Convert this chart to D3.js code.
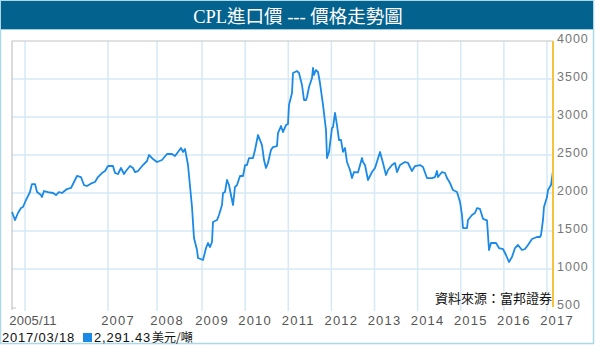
<!DOCTYPE html>
<html><head><meta charset="utf-8">
<script src="https://cdn.jsdelivr.net/npm/d3@7"></script>
<style>
html,body{margin:0;padding:0;background:#fff;}
svg{display:block;}
</style></head>
<body>
<script>
// ---- data (decimal years / USD per ton) ----
const years = [2005.667,2005.705,2005.743,2005.782,2005.807,2005.847,2005.875,2005.903,2005.931,2005.974,2006.002,2006.058,2006.072,2006.100,2006.156,2006.227,2006.269,2006.311,2006.353,2006.423,2006.480,2006.522,2006.564,2006.620,2006.662,2006.705,2006.775,2006.817,2006.859,2006.915,2006.958,2007.000,2007.102,2007.143,2007.204,2007.265,2007.327,2007.367,2007.449,2007.510,2007.551,2007.612,2007.714,2007.796,2007.837,2007.918,2008.000,2008.111,2008.222,2008.333,2008.400,2008.467,2008.533,2008.578,2008.622,2008.689,2008.778,2008.822,2008.889,2008.911,2009.023,2009.093,2009.139,2009.186,2009.232,2009.255,2009.348,2009.394,2009.464,2009.487,2009.533,2009.580,2009.626,2009.719,2009.765,2009.812,2009.881,2009.951,2010.000,2010.043,2010.090,2010.183,2010.229,2010.299,2010.391,2010.438,2010.484,2010.530,2010.600,2010.646,2010.739,2010.762,2010.832,2010.878,2010.948,2010.994,2011.017,2011.087,2011.110,2011.203,2011.249,2011.319,2011.365,2011.412,2011.435,2011.481,2011.551,2011.574,2011.597,2011.643,2011.690,2011.736,2011.806,2011.875,2011.899,2011.945,2012.014,2012.038,2012.084,2012.130,2012.177,2012.223,2012.270,2012.316,2012.362,2012.432,2012.478,2012.525,2012.617,2012.710,2012.733,2012.780,2012.849,2012.942,2013.012,2013.128,2013.197,2013.267,2013.313,2013.406,2013.475,2013.522,2013.591,2013.707,2013.777,2013.870,2013.939,2014.055,2014.125,2014.217,2014.333,2014.403,2014.449,2014.472,2014.565,2014.635,2014.681,2014.751,2014.820,2014.913,2014.983,2015.029,2015.052,2015.145,2015.168,2015.261,2015.330,2015.377,2015.446,2015.516,2015.609,2015.655,2015.701,2015.817,2015.887,2015.980,2016.049,2016.119,2016.188,2016.258,2016.327,2016.420,2016.490,2016.559,2016.652,2016.768,2016.838,2016.861,2016.907,2016.930,2017.000,2017.035,2017.140,2017.210];
const prices = [1750,1644,1737,1802,1816,1908,1960,2013,2118,2118,2013,1973,1947,2026,2013,2000,1973,2013,2000,2052,2066,2145,2224,2210,2105,2092,2131,2145,2210,2263,2289,2355,2355,2263,2250,2329,2250,2289,2355,2329,2276,2289,2368,2421,2500,2447,2408,2434,2513,2513,2487,2539,2592,2540,2580,2368,1816,1408,1250,1145,1118,1276,1342,1289,1355,1618,1644,1710,1842,2000,2013,2171,2105,1842,2079,2105,2224,2224,2368,2368,2460,2460,2566,2763,2631,2434,2329,2395,2566,2605,2618,2789,2881,2802,2894,2908,3158,3316,3579,3605,3579,3421,3224,3224,3263,3395,3513,3645,3553,3618,3592,3447,3158,2829,2460,2539,2855,2868,3053,2894,2697,2700,2540,2592,2408,2303,2197,2276,2270,2460,2408,2368,2171,2276,2329,2539,2395,2237,2303,2368,2395,2276,2368,2408,2395,2289,2355,2368,2342,2197,2197,2210,2289,2210,2276,2263,2197,2131,2039,2013,1882,1710,1539,1539,1645,1710,1737,1802,1790,1660,1640,1250,1342,1342,1276,1263,1184,1092,1158,1276,1316,1250,1263,1316,1395,1421,1421,1447,1645,1816,1947,2039,2105,2291];
const xTickValues = [2005.833,2007,2008,2009,2010,2011,2012,2013,2014,2015,2016,2017];
const xTickLabels = ["2005/11","2007","2008","2009","2010","2011","2012","2013","2014","2015","2016","2017"];
const yTickValues = [500,1000,1500,2000,2500,3000,3500,4000];
const titleText = "CPL進口價 --- 價格走勢圖";
const lastDate = "2017/03/18";
const lastValue = 2291.43;
const unitText = "美元/噸";
const sourceText = "資料來源：富邦證券";

// ---- layout ----
const W = 600, H = 355;
const svg = d3.select("body").append("svg").attr("width", W).attr("height", H);

const plotL = 12, plotR = 553, plotT = 41, plotB = 307;

// irregular time axis (category-like spacing in the original)
const x = d3.scaleLinear()
  .domain([2005.667, 2005.833, 2007, 2008, 2009, 2017, 2017.21])
  .range([plotL, 25, 108, 157, 202, 547, plotR]);
const y = d3.scaleLinear().domain([500, 4000]).range([plotB, plotT]);

// outer frame
svg.append("rect").attr("x", 0.5).attr("y", 0.5).attr("width", 593).attr("height", 343)
  .attr("fill", "#fff").attr("stroke", "#add8e6").attr("stroke-width", 1.5);
// title bar
svg.append("rect").attr("x", 1).attr("y", 1).attr("width", 592).attr("height", 28).attr("fill", "#04628e");
svg.append("line").attr("x1", 1).attr("x2", 593).attr("y1", 29.5).attr("y2", 29.5)
  .attr("stroke", "#9fcbe0").attr("stroke-width", 1);
svg.append("text").attr("x", 298).attr("y", 23).attr("text-anchor", "middle")
  .attr("fill", "#fff").attr("font-size", 18.5)
  .attr("font-family", "'Liberation Serif','DejaVu Serif','Noto Sans CJK TC',serif")
  .text(titleText);

// horizontal grid
svg.append("g").selectAll("line").data(yTickValues.filter(v => v > 500 && v < 4000)).join("line")
  .attr("x1", plotL).attr("x2", plotR).attr("y1", d => y(d)).attr("y2", d => y(d))
  .attr("stroke", "#d6e9f4").attr("stroke-width", 1.5);
// vertical grid + ticks
svg.append("g").selectAll("line").data(xTickValues).join("line")
  .attr("x1", d => x(d)).attr("x2", d => x(d)).attr("y1", plotT).attr("y2", plotB + 4)
  .attr("stroke", "#d6e9f4").attr("stroke-width", 1.5);

// plot border (left & top)
svg.append("path").attr("d", `M${plotL},${plotB + 3}V${plotT}H${plotR}`)
  .attr("fill", "none").attr("stroke", "#c4c4c4").attr("stroke-width", 1.2);
svg.append("line").attr("x1", plotL).attr("x2", plotL + 4).attr("y1", plotB + 1).attr("y2", plotB + 1)
  .attr("stroke", "#c4c4c4");

// x labels
svg.append("g").selectAll("text").data(xTickValues).join("text")
  .attr("x", (d, i) => x(d) + (i === 0 ? 8 : 10)).attr("y", 324.5)
  .attr("text-anchor", "middle").attr("fill", "#555").attr("font-size", 13)
  .attr("letter-spacing", (d, i) => i === 0 ? 0.2 : 1.2)
  .attr("font-family", "'Liberation Sans',Arial,sans-serif")
  .text((d, i) => xTickLabels[i]);

// y labels (right)
svg.append("g").selectAll("text").data(yTickValues).join("text")
  .attr("x", 557).attr("y", d => y(d) + 2)
  .attr("fill", "#777").attr("font-size", 12.5).attr("letter-spacing", 1)
  .attr("font-family", "'Liberation Sans',Arial,sans-serif")
  .text(d => d);

// line
const line = d3.line().x((d, i) => x(years[i])).y(d => y(d));
svg.append("path").datum(prices).attr("d", line)
  .attr("fill", "none").attr("stroke", "#1a8ae6").attr("stroke-width", 1.8)
  .attr("stroke-linejoin", "round");

// current marker (orange vertical)
const lastX = x(years[years.length - 1]);
svg.append("line").attr("x1", lastX).attr("x2", lastX).attr("y1", plotT).attr("y2", plotB)
  .attr("stroke", "#f7c23c").attr("stroke-width", 2);

// source
svg.append("text").attr("x", plotR - 1).attr("y", 303).attr("text-anchor", "end")
  .attr("fill", "#111").attr("font-size", 13)
  .attr("font-family", "'Noto Sans CJK TC',sans-serif").text(sourceText);

// bottom legend
svg.append("text").attr("x", 2).attr("y", 342).attr("fill", "#111")
  .attr("font-size", 13).attr("letter-spacing", 0.8)
  .attr("font-family", "'Liberation Sans',Arial,sans-serif")
  .text(lastDate);
svg.append("rect").attr("x", 83).attr("y", 333).attr("width", 9).attr("height", 9).attr("fill", "#1a8ae6");
const valText = svg.append("text").attr("x", 94).attr("y", 342).attr("fill", "#111").attr("font-size", 13)
  .attr("font-family", "'Liberation Sans',Arial,sans-serif").attr("letter-spacing", 0.8)
  .text(d3.format(",.2f")(lastValue));
const valW = valText.node().getComputedTextLength();
svg.append("text").attr("x", 94 + valW + 1).attr("y", 342).attr("fill", "#111").attr("font-size", 12)
  .attr("font-family", "'Noto Sans CJK TC',sans-serif")
  .text(unitText);
</script>
</body></html>
